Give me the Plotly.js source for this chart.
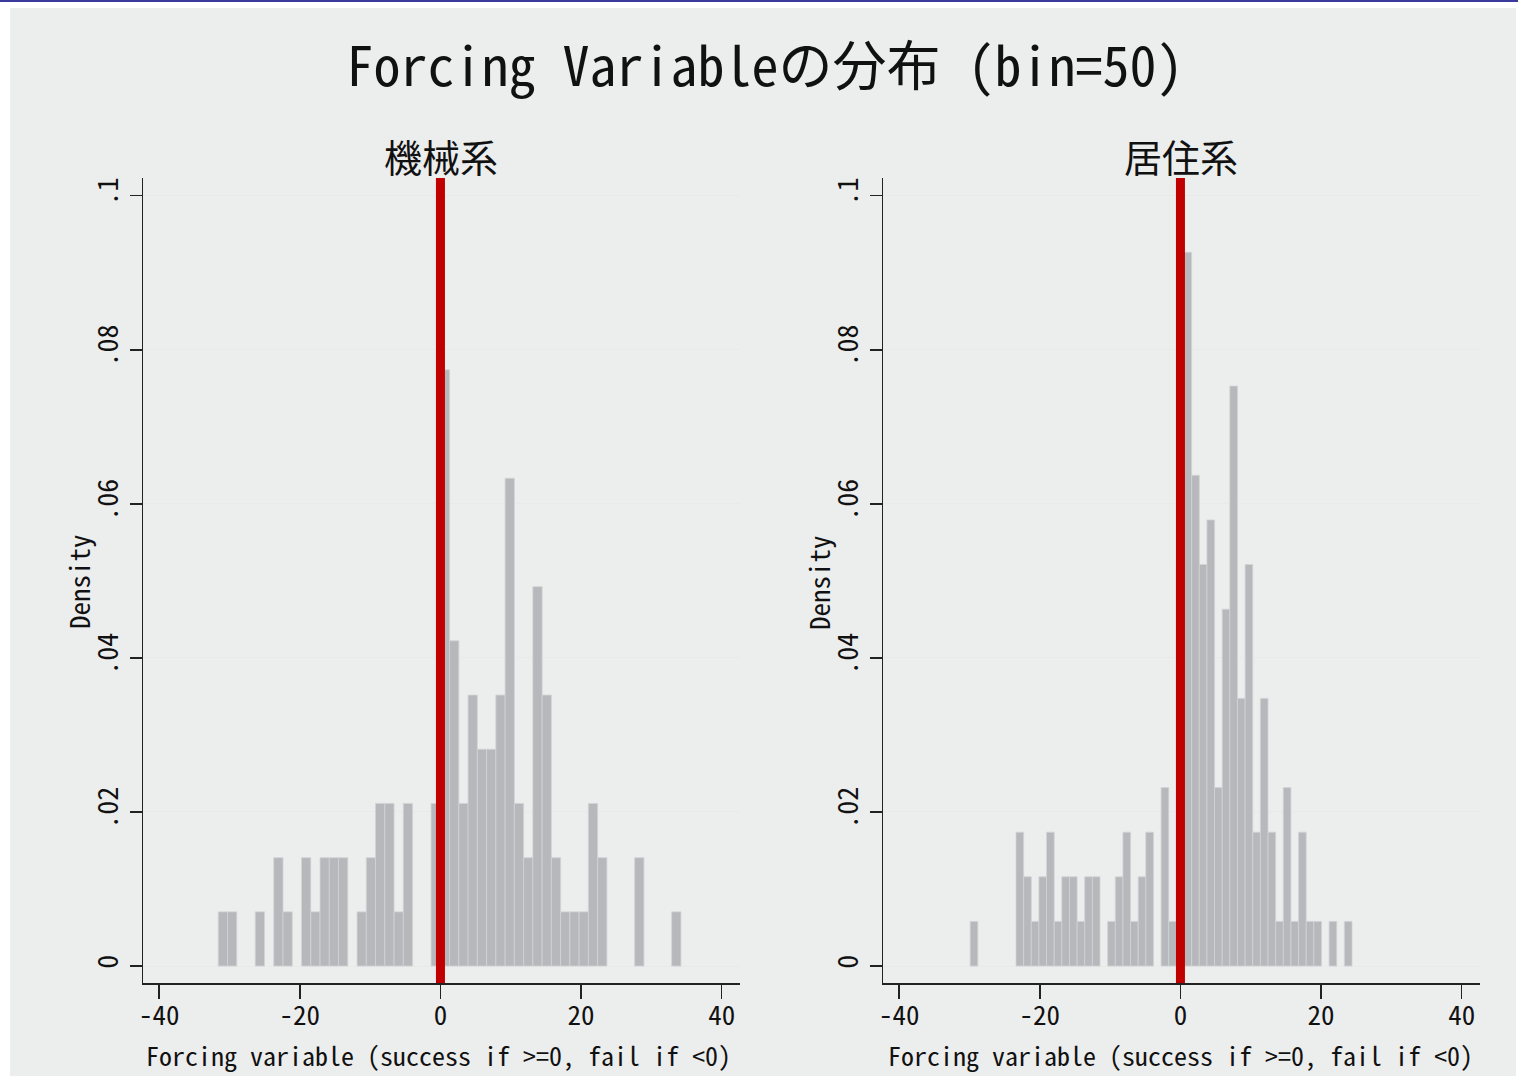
<!DOCTYPE html>
<html>
<head>
<meta charset="utf-8">
<script src="https://cdn.plot.ly/plotly-3.0.1.min.js"></script>
<style>
  html, body { margin: 0; padding: 0; background: #ffffff; }
  #chart { width: 1518px; height: 1078px; }
</style>
</head>
<body>
<div id="chart"></div>
<script>
// ---------- data ----------
const mainTitle = "Forcing Variableの分布 (bin=50)";
const panelTitles = ["機械系", "居住系"];
const xAxisTitle = "Forcing variable (success if >=0, fail if <0)";
const yAxisTitle = "Density";

// histogram range of each panel (lower edge of first bin, upper edge of last bin)
const leftRange = [-31.6, 34.2];
const rightRange = [-29.9, 24.4];

// observations per bin (50 bins each)
const leftCounts = [
  1, 1, 0, 0, 1, 0, 2, 1, 0, 2,
  1, 2, 2, 2, 0, 1, 2, 3, 3, 1,
  3, 0, 0, 3, 11, 6, 3, 5, 4, 4,
  5, 9, 3, 2, 7, 5, 2, 1, 1, 1,
  3, 2, 0, 0, 0, 2, 0, 0, 0, 1
];
const rightCounts = [
  1, 0, 0, 0, 0, 0, 3, 2, 1, 2,
  3, 1, 2, 2, 1, 2, 2, 0, 1, 2,
  3, 1, 2, 3, 0, 4, 1, 9, 16, 11,
  9, 10, 4, 8, 13, 6, 9, 3, 6, 3,
  1, 4, 1, 3, 1, 1, 0, 1, 0, 1
];

const xTickVals = [-40, -20, 0, 20, 40];
const xTickText = ["-40", "-20", "0", "20", "40"];
const yTickVals = [0, 0.02, 0.04, 0.06, 0.08, 0.1];
const yTickText = ["0", ".02", ".04", ".06", ".08", ".1"];
const xLineAt = 0;

// ---------- build ----------
function histTrace(counts, range, xa, ya) {
  const n = counts.length;
  const w = (range[1] - range[0]) / n;
  const total = counts.reduce((a, b) => a + b, 0);
  const x = counts.map((_, i) => range[0] + w * (i + 0.5));
  const y = counts.map(c => c > 0 ? c / (total * w) : null);
  return {
    type: 'bar', x: x, y: y, width: w,
    xaxis: xa, yaxis: ya,
    marker: { color: '#b6b8bc', line: { color: '#d2d3d6', width: 0.8 } },
    hoverinfo: 'x+y', showlegend: false
  };
}

const FONT = '"Noto Sans Mono CJK JP", "Noto Sans CJK JP", "DejaVu Sans Mono", monospace';
const W = 1518, H = 1078;
const px = v => v / W;
const py = v => 1 - v / H;

function xAxis(domain, anchor) {
  return {
    domain: domain, anchor: anchor,
    range: [-42.3, 42.6],
    tickmode: 'array', tickvals: xTickVals, ticktext: xTickText,
    ticks: 'outside', ticklen: 14, tickwidth: 1.5, tickcolor: '#222',
    ticklabelstandoff: -6,
    showline: true, linecolor: '#222', linewidth: 1.5,
    showgrid: false, zeroline: false,
    tickfont: { family: FONT, size: 27, color: '#111' },
    fixedrange: true
  };
}
function yAxis(domain, anchor) {
  return {
    domain: domain, anchor: anchor,
    range: [-0.0022, 0.1023],
    tickmode: 'array', tickvals: yTickVals, ticktext: yTickText,
    tickangle: -90,
    ticks: 'outside', ticklen: 12, tickwidth: 1.5, tickcolor: '#222',
    showline: true, linecolor: '#222', linewidth: 1.5,
    showgrid: true, gridcolor: '#e9e9e9', gridwidth: 1, zeroline: false,
    tickfont: { family: FONT, size: 28, color: '#111' },
    fixedrange: true
  };
}

function textAnn(text, x, y, size, angle) {
  return { text: text, x: px(x), y: py(y), xref: 'paper', yref: 'paper',
    xanchor: 'center', yanchor: 'middle', showarrow: false, textangle: angle || 0,
    font: { family: FONT, size: size, color: '#111' } };
}

const yDom = [py(983), py(178)];
const layout = {
  width: W, height: H,
  margin: { l: 0, r: 0, t: 0, b: 0 },
  paper_bgcolor: '#ffffff',
  plot_bgcolor: '#ffffff',
  bargap: 0,
  title: {
    text: mainTitle,
    font: { family: FONT, size: 54, color: '#111' },
    x: px(765), xanchor: 'center', xref: 'paper',
    y: py(67), yanchor: 'middle', yref: 'paper'
  },
  xaxis: xAxis([px(143), px(740)], 'y'),
  yaxis: yAxis(yDom, 'x'),
  xaxis2: xAxis([px(883), px(1480)], 'y2'),
  yaxis2: yAxis(yDom, 'x2'),
  annotations: [
    textAnn(panelTitles[0], 441, 155, 38),
    textAnn(panelTitles[1], 1181, 155, 38),
    textAnn(xAxisTitle, 439, 1054, 26),
    textAnn(xAxisTitle, 1180, 1054, 26),
    textAnn(yAxisTitle, 78, 582, 27, -90),
    textAnn(yAxisTitle, 818, 582, 27, -90)
  ],
  shapes: [
    { type: 'rect', xref: 'paper', yref: 'paper', x0: px(10), x1: px(1516), y0: py(1076), y1: py(8),
      fillcolor: '#eceded', line: { width: 0 }, layer: 'below' },
    { type: 'line', xref: 'paper', yref: 'paper', x0: 0, x1: 1, y0: py(1), y1: py(1),
      line: { color: '#3a3a9c', width: 2 } },
    { type: 'line', xref: 'x', yref: 'y domain', x0: xLineAt, x1: xLineAt, y0: 0, y1: 1,
      line: { color: '#c00000', width: 9 } },
    { type: 'line', xref: 'x2', yref: 'y2 domain', x0: xLineAt, x1: xLineAt, y0: 0, y1: 1,
      line: { color: '#c00000', width: 9 } }
  ]
};

const data = [
  histTrace(leftCounts, leftRange, 'x', 'y'),
  histTrace(rightCounts, rightRange, 'x2', 'y2')
];

Plotly.newPlot('chart', data, layout, { displayModeBar: false, staticPlot: true });
</script>
</body>
</html>
